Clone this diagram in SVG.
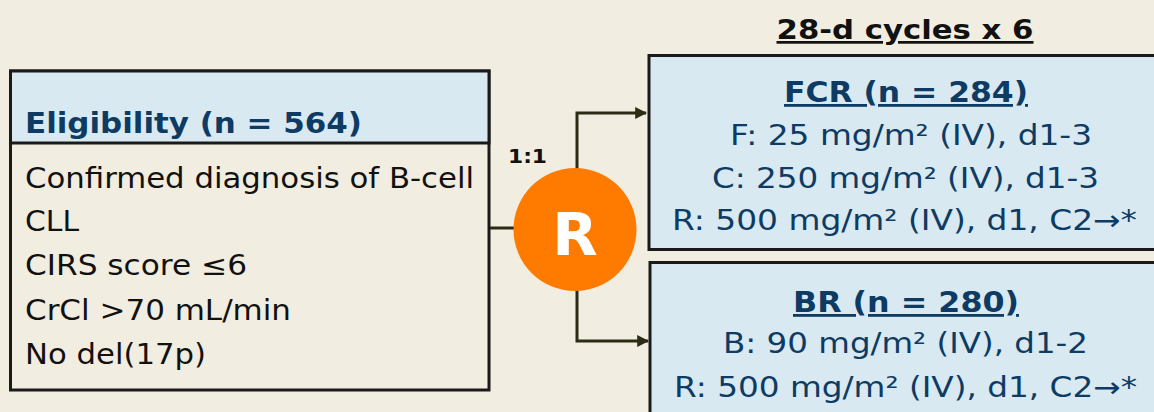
<svg xmlns="http://www.w3.org/2000/svg" width="1154" height="412" viewBox="0 0 1154 412">
<style>
.t{font-family:"DejaVu Sans","Liberation Sans",sans-serif;}
.body{font-size:28px;fill:#111111;}
.blue{font-size:28px;fill:#0d3b63;}
.hdr{font-size:28px;font-weight:bold;fill:#0d3b63;}
.ul{text-decoration:underline;text-decoration-skip-ink:none;}
.box{stroke:#1a1a1a;stroke-width:3;}
.conn{fill:none;stroke:#2b2b16;stroke-width:3;}
</style>
<defs>
<marker id="arr" viewBox="0 0 10 10" refX="9" refY="5" markerWidth="4" markerHeight="4" orient="auto" markerUnits="strokeWidth">
<path d="M0,0 L10,5 L0,10 z" fill="#2b2b16"/>
</marker>
</defs>
<rect x="0" y="0" width="1154" height="412" fill="#f1ede0"/>

<g id="connectors">
<line class="conn" x1="489" y1="228" x2="515" y2="228"/>
<polyline class="conn" points="577,170 577,113 646,113" marker-end="url(#arr)"/>
<polyline class="conn" points="577,289 577,341 648,341" marker-end="url(#arr)"/>
</g>

<g id="eligibility">
<rect class="box" x="10.5" y="71" width="478.5" height="319" fill="#f1ede0"/>
<rect class="box" x="10.5" y="71" width="478.5" height="72" fill="#d9e9f2"/>
<text class="t hdr" x="25" y="133" textLength="337" lengthAdjust="spacingAndGlyphs">Eligibility (n = 564)</text>
<text class="t body" x="25" y="188" textLength="449" lengthAdjust="spacingAndGlyphs">Confirmed diagnosis of B-cell</text>
<text class="t body" x="25" y="231" textLength="54" lengthAdjust="spacingAndGlyphs">CLL</text>
<text class="t body" x="25" y="275" textLength="222" lengthAdjust="spacingAndGlyphs">CIRS score ≤6</text>
<text class="t body" x="25" y="320" textLength="266" lengthAdjust="spacingAndGlyphs">CrCl &gt;70 mL/min</text>
<text class="t body" x="25" y="364" textLength="181" lengthAdjust="spacingAndGlyphs">No del(17p)</text>
</g>

<g id="randomize">
<circle cx="575" cy="229.5" r="61.5" fill="#ff7b00"/>
<text class="t" x="575" y="255" text-anchor="middle" font-size="59" font-weight="bold" fill="#ffffff">R</text>
<text class="t" x="508" y="163" font-size="20" font-weight="bold" fill="#111111" textLength="39" lengthAdjust="spacingAndGlyphs">1:1</text>
</g>

<g id="title">
<text class="t ul" x="905" y="39" text-anchor="middle" font-size="27" font-weight="bold" fill="#111111" textLength="257" lengthAdjust="spacingAndGlyphs">28-d cycles x 6</text>
</g>

<g id="fcr">
<rect class="box" x="649" y="55.5" width="520" height="194" fill="#d9e9f2"/>
<text class="t hdr ul" x="906" y="102" text-anchor="middle" textLength="244" lengthAdjust="spacingAndGlyphs">FCR (n = 284)</text>
<text class="t blue" x="911" y="145" text-anchor="middle" textLength="362" lengthAdjust="spacingAndGlyphs">F: 25 mg/m² (IV), d1-3</text>
<text class="t blue" x="905.5" y="188" text-anchor="middle" textLength="387" lengthAdjust="spacingAndGlyphs">C: 250 mg/m² (IV), d1-3</text>
<text class="t blue" x="904.5" y="230" text-anchor="middle" textLength="465" lengthAdjust="spacingAndGlyphs">R: 500 mg/m² (IV), d1, C2→*</text>
</g>

<g id="br">
<rect class="box" x="650" y="262.5" width="520" height="160" fill="#d9e9f2"/>
<text class="t hdr ul" x="906" y="312" text-anchor="middle" textLength="226" lengthAdjust="spacingAndGlyphs">BR (n = 280)</text>
<text class="t blue" x="905.5" y="353" text-anchor="middle" textLength="365" lengthAdjust="spacingAndGlyphs">B: 90 mg/m² (IV), d1-2</text>
<text class="t blue" x="905.5" y="397" text-anchor="middle" textLength="463" lengthAdjust="spacingAndGlyphs">R: 500 mg/m² (IV), d1, C2→*</text>
</g>
</svg>
